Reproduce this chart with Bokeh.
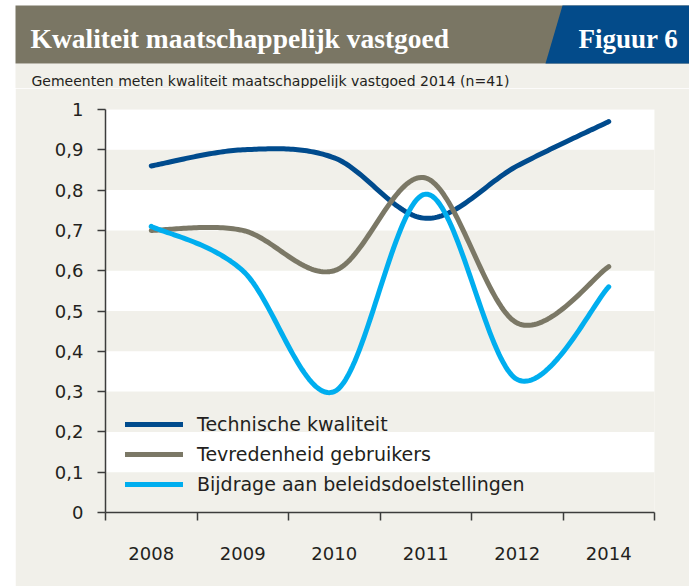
from bokeh.plotting import figure
from bokeh.models import Range1d, FixedTicker, Legend, LegendItem, Spacer
from bokeh.layouts import column, row
from bokeh.embed import file_html
from bokeh.resources import INLINE
from bokeh.core.properties import value

# ---------------- data ----------------
years = ["2008", "2009", "2010", "2011", "2012", "2014"]
technische = [0.86, 0.90, 0.88, 0.73, 0.86, 0.97]
tevredenheid = [0.70, 0.70, 0.60, 0.83, 0.47, 0.61]
bijdrage = [0.71, 0.60, 0.30, 0.79, 0.33, 0.56]
series_names = ["Technische kwaliteit", "Tevredenheid gebruikers",
                "Bijdrage aan beleidsdoelstellingen"]
y_ticks = [0, 0.1, 0.2, 0.3, 0.4, 0.5, 0.6, 0.7, 0.8, 0.9, 1.0]
y_tick_labels = ["0", "0,1", "0,2", "0,3", "0,4", "0,5", "0,6", "0,7", "0,8", "0,9", "1"]
title_text = "Kwaliteit maatschappelijk vastgoed"
figure_label = "Figuur 6"
subtitle_text = "Gemeenten meten kwaliteit maatschappelijk vastgoed 2014 (n=41)"

# ---------------- styles ----------------
BEIGE = "#f1f0ea"
HEAD_GRAY = "#7a7664"
HEAD_BLUE = "#034b8a"
COLORS = ["#004b8d", "#7b7866", "#00aeef"]
TXT = "#231f20"
AXIS = "#3c3c3c"


def catmull_rom(xs, ys, n=40):
    px = [xs[0]] + list(xs) + [xs[-1]]
    py = [ys[0]] + list(ys) + [ys[-1]]
    ox, oy = [], []
    for i in range(1, len(px) - 2):
        p0x, p1x, p2x, p3x = px[i - 1], px[i], px[i + 1], px[i + 2]
        p0y, p1y, p2y, p3y = py[i - 1], py[i], py[i + 1], py[i + 2]
        for k in range(n):
            t = k / n
            t2, t3 = t * t, t * t * t
            ox.append(0.5 * ((2 * p1x) + (-p0x + p2x) * t +
                             (2 * p0x - 5 * p1x + 4 * p2x - p3x) * t2 +
                             (-p0x + 3 * p1x - 3 * p2x + p3x) * t3))
            oy.append(0.5 * ((2 * p1y) + (-p0y + p2y) * t +
                             (2 * p0y - 5 * p1y + 4 * p2y - p3y) * t2 +
                             (-p0y + 3 * p1y - 3 * p2y + p3y) * t3))
    ox.append(xs[-1])
    oy.append(ys[-1])
    return ox, oy


# ---------------- header ----------------
HW, HH = 689, 88
head = figure(width=HW, height=HH, x_range=Range1d(0, HW), y_range=Range1d(HH, 0),
              toolbar_location=None, output_backend="svg", min_border=0)
head.axis.visible = False
head.grid.visible = False
head.outline_line_color = None
head.background_fill_color = "white"
head.border_fill_color = "white"
head.quad(left=15, right=HW, top=63, bottom=HH, fill_color=BEIGE, line_color=None)
head.quad(left=15, right=HW, top=5, bottom=63, fill_color=HEAD_GRAY, line_color=None)
head.patch([562, HW, HW, 545], [5, 5, 63, 63], fill_color=HEAD_BLUE, line_color=None)
head.text(x=[30], y=[38], text=[title_text], text_color="white",
          text_font=value("Liberation Serif"), text_font_size="27.5px", text_font_style="bold",
          text_baseline="middle", text_align="left")
head.text(x=[578], y=[38], text=[figure_label], text_color="white",
          text_font=value("Liberation Serif"), text_font_size="27px", text_font_style="bold",
          text_baseline="middle", text_align="left")
head.text(x=[31], y=[80], text=[subtitle_text], text_color=TXT,
          text_font=value("DejaVu Sans"), text_font_size="14px",
          text_baseline="middle", text_align="left")

# ---------------- main chart ----------------
n = len(years)
x_pos = [i + 0.5 for i in range(n)]

p = figure(width=674, height=498, x_range=Range1d(0, n), y_range=Range1d(0, 1),
           toolbar_location=None, output_backend="svg",
           min_border_left=90, min_border_right=35, min_border_top=21, min_border_bottom=74)
p.background_fill_color = BEIGE
p.border_fill_color = BEIGE
p.outline_line_color = None
p.grid.visible = False

# white bands
band_bottoms = y_ticks[1:-1:2]
band_tops = y_ticks[2::2]
p.quad(left=0, right=n, bottom=band_bottoms, top=band_tops,
       fill_color="white", line_color=None)

renderers = []
for vals, col in zip([technische, tevredenheid, bijdrage], COLORS):
    sx, sy = catmull_rom(x_pos, vals)
    r = p.line(sx, sy, line_color=col, line_width=5, line_cap="round", line_join="round")
    renderers.append(r)

# axes
xa = p.xaxis[0]
xa.ticker = FixedTicker(ticks=x_pos, minor_ticks=list(range(n + 1)))
xa.major_label_overrides = {x: y for x, y in zip(x_pos, years)}
xa.major_tick_line_color = None
xa.major_tick_out = 0
xa.major_tick_in = 0
xa.minor_tick_out = 8
xa.minor_tick_in = 0
xa.minor_tick_line_color = AXIS
xa.minor_tick_line_width = 1.5
xa.axis_line_color = AXIS
xa.axis_line_width = 1.5
xa.major_label_standoff = 26
xa.major_label_text_font = "DejaVu Sans"
xa.major_label_text_font_size = "18px"
xa.major_label_text_color = TXT

ya = p.yaxis[0]
ya.ticker = FixedTicker(ticks=y_ticks)
ya.major_label_overrides = {t: l for t, l in zip(y_ticks, y_tick_labels)}
ya.major_tick_out = 8
ya.major_tick_in = 0
ya.minor_tick_line_color = None
ya.major_tick_line_color = AXIS
ya.major_tick_line_width = 1.5
ya.axis_line_color = AXIS
ya.axis_line_width = 1.5
ya.major_label_standoff = 14
ya.major_label_text_font = "DejaVu Sans"
ya.major_label_text_font_size = "18px"
ya.major_label_text_color = TXT

legend = Legend(items=[LegendItem(label=nm, renderers=[r]) for nm, r in zip(series_names, renderers)],
                location=(20, 13), glyph_width=58, glyph_height=30, label_height=30,
                spacing=0, padding=0, margin=0, label_standoff=14,
                background_fill_alpha=0, border_line_color=None,
                label_text_font="DejaVu Sans", label_text_font_size="19px",
                label_text_color=TXT)
p.add_layout(legend)

layout = column(head, row(Spacer(width=15, height=498), p))
open("out.html", "w").write(file_html(layout, INLINE))
